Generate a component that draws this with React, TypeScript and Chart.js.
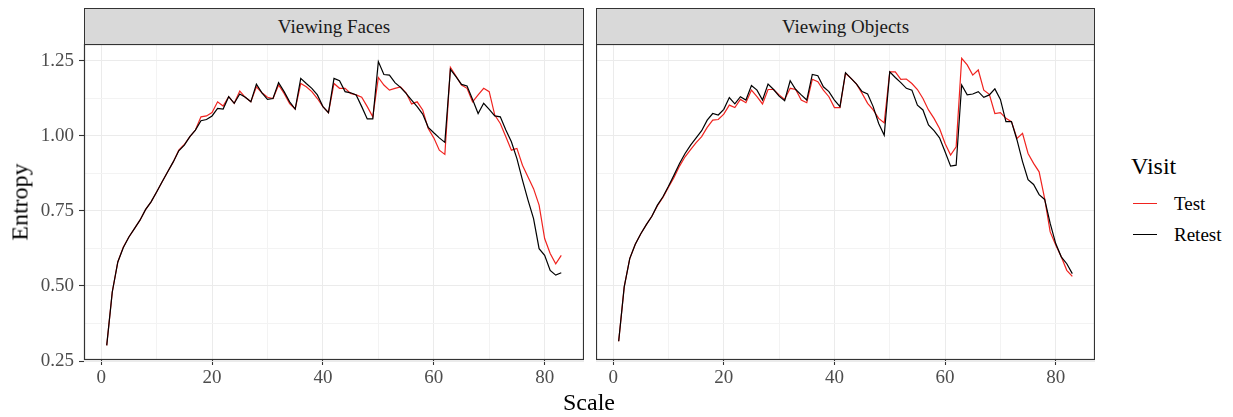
import React, { useEffect, useRef } from "react";
import { Chart, registerables } from "chart.js";
Chart.register(...registerables);

const scaleValues = Array.from({ length: 83 }, (_, i) => i + 1);

const facesTest = [
  0.302, 0.48, 0.58, 0.63, 0.663, 0.691, 0.719, 0.754, 0.78, 0.813,
  0.847, 0.88, 0.913, 0.952, 0.971, 0.997, 1.019, 1.063, 1.066, 1.077,
  1.113, 1.099, 1.13, 1.108, 1.149, 1.128, 1.113, 1.163, 1.143, 1.128,
  1.124, 1.169, 1.141, 1.107, 1.089, 1.174, 1.163, 1.147, 1.124, 1.097,
  1.077, 1.174, 1.158, 1.158, 1.141, 1.136, 1.128, 1.097, 1.063, 1.194,
  1.169, 1.152, 1.158, 1.163, 1.143, 1.106, 1.113, 1.086, 1.024, 0.993,
  0.952, 0.938, 1.228, 1.199, 1.169, 1.158, 1.113, 1.136, 1.158, 1.147,
  1.069, 1.041, 0.997, 0.952, 0.958, 0.902, 0.863, 0.824, 0.769, 0.658,
  0.608, 0.574, 0.602,
];
const facesRetest = [
  0.302, 0.48, 0.58, 0.628, 0.663, 0.691, 0.719, 0.754, 0.78, 0.813,
  0.847, 0.88, 0.913, 0.95, 0.969, 0.997, 1.019, 1.05, 1.054, 1.066,
  1.091, 1.089, 1.13, 1.108, 1.139, 1.128, 1.113, 1.172, 1.143, 1.121,
  1.124, 1.177, 1.147, 1.113, 1.089, 1.191, 1.174, 1.158, 1.136, 1.097,
  1.077, 1.191, 1.183, 1.147, 1.143, 1.136, 1.097, 1.056, 1.056, 1.247,
  1.204, 1.202, 1.177, 1.161, 1.141, 1.119, 1.097, 1.072, 1.028, 1.01,
  0.993, 0.978, 1.221, 1.197, 1.171, 1.166, 1.121, 1.074, 1.108, 1.088,
  1.066, 1.063, 1.019, 0.98, 0.924, 0.852, 0.786, 0.724, 0.624, 0.602,
  0.552, 0.536, 0.544,
];
const objectsTest = [
  0.316, 0.497, 0.591, 0.639, 0.674, 0.704, 0.732, 0.767, 0.795, 0.829,
  0.861, 0.899, 0.93, 0.954, 0.977, 0.997, 1.028, 1.052, 1.054, 1.072,
  1.102, 1.094, 1.121, 1.11, 1.152, 1.13, 1.106, 1.154, 1.154, 1.136,
  1.121, 1.158, 1.154, 1.119, 1.11, 1.188, 1.18, 1.152, 1.13, 1.094,
  1.094, 1.208, 1.191, 1.172, 1.141, 1.108, 1.086, 1.058, 1.043, 1.213,
  1.213, 1.188, 1.189, 1.174, 1.154, 1.124, 1.086, 1.058, 1.024, 0.974,
  0.936, 0.963, 1.258, 1.236, 1.202, 1.219, 1.152, 1.138, 1.074, 1.077,
  1.058, 1.047, 0.991, 1.008, 0.941, 0.908, 0.88, 0.791, 0.68, 0.636,
  0.597, 0.552, 0.532,
];
const objectsRetest = [
  0.316, 0.497, 0.591, 0.639, 0.674, 0.704, 0.732, 0.769, 0.797, 0.832,
  0.869, 0.908, 0.941, 0.969, 0.993, 1.017, 1.052, 1.074, 1.069, 1.088,
  1.127, 1.106, 1.13, 1.119, 1.167, 1.152, 1.119, 1.172, 1.154, 1.132,
  1.117, 1.183, 1.154, 1.136, 1.119, 1.204, 1.2, 1.163, 1.147, 1.119,
  1.097, 1.21, 1.191, 1.172, 1.147, 1.139, 1.097, 1.041, 1.002, 1.213,
  1.194, 1.177, 1.158, 1.152, 1.102, 1.086, 1.036, 1.017, 0.993, 0.947,
  0.899, 0.902, 1.169, 1.136, 1.139, 1.147, 1.128, 1.136, 1.156, 1.121,
  1.047, 1.047, 0.986, 0.914, 0.854, 0.838, 0.804, 0.788, 0.708, 0.641,
  0.597, 0.574, 0.541,
];

const xTickValues = [0, 10, 20, 30, 40, 50, 60, 70, 80];
const xMajorTicks = [0, 20, 40, 60, 80];
const yTickValues = [0.25, 0.375, 0.5, 0.625, 0.75, 0.875, 1.0, 1.125, 1.25];
const yMajorTicks = [0.25, 0.5, 0.75, 1.0, 1.25];
const facetTitles = ["Viewing Faces", "Viewing Objects"];
const seriesNames = ["Test", "Retest"];
const seriesColors = ["#f0231f", "#000000"];

const FONT = "'Liberation Serif', 'DejaVu Serif', serif";
const X_MIN = -3.1;
const X_MAX = 87.1;
const Y_MIN = 0.2535;
const Y_MAX = 1.3055;

const borderPlugin = {
  id: "panelBorder",
  afterDraw(chart: any) {
    const { ctx, chartArea } = chart;
    ctx.save();
    ctx.strokeStyle = "#333333";
    ctx.lineWidth = 1.2;
    ctx.strokeRect(
      chartArea.left + 0.5,
      chartArea.top + 0.5,
      chartArea.right - chartArea.left - 1,
      chartArea.bottom - chartArea.top - 1
    );
    ctx.restore();
  },
};

function Panel(props: {
  test: number[];
  retest: number[];
  showY: boolean;
  left: number;
  width: number;
}) {
  const ref = useRef<HTMLCanvasElement | null>(null);
  useEffect(() => {
    if (!ref.current) return;
    const isMajorX = (v: number) => xMajorTicks.includes(v);
    const isMajorY = (v: number) => yMajorTicks.some((m) => Math.abs(m - v) < 1e-6);
    const chart = new Chart(ref.current, {
      type: "line",
      data: {
        datasets: [
          {
            label: seriesNames[1],
            data: scaleValues.map((x, i) => ({ x, y: props.retest[i] })),
            borderColor: seriesColors[1],
            borderWidth: 1.2,
            pointRadius: 0,
            tension: 0,
            fill: false,
          },
          {
            label: seriesNames[0],
            data: scaleValues.map((x, i) => ({ x, y: props.test[i] })),
            borderColor: seriesColors[0],
            borderWidth: 1.2,
            pointRadius: 0,
            tension: 0,
            fill: false,
          },
        ],
      },
      options: {
        animation: false,
        responsive: false,
        devicePixelRatio: 1,
        layout: { padding: 0 },
        plugins: { legend: { display: false }, tooltip: { enabled: false } },
        scales: {
          x: {
            type: "linear",
            min: X_MIN,
            max: X_MAX,
            afterBuildTicks: (s: any) => {
              s.ticks = xTickValues.map((v) => ({ value: v }));
            },
            afterFit: (s: any) => {
              s.height = 30;
              s.paddingLeft = 0;
              s.paddingRight = 0;
              s.paddingTop = 0;
              s.paddingBottom = 0;
            },
            border: { display: false },
            grid: {
              color: (c: any) => (isMajorX(c.tick?.value) ? "#ebebeb" : "#f3f3f3"),
              lineWidth: 1,
              tickLength: 5,
              tickColor: (c: any) => (isMajorX(c.tick?.value) ? "#333333" : "rgba(0,0,0,0)"),
              tickWidth: 1.1,
            },
            ticks: {
              autoSkip: false,
              maxRotation: 0,
              padding: 2,
              color: "#4d4d4d",
              font: { family: FONT, size: 19 },
              callback: (v: any) => (isMajorX(Number(v)) ? String(v) : ""),
            },
          },
          y: {
            type: "linear",
            min: Y_MIN,
            max: Y_MAX,
            afterBuildTicks: (s: any) => {
              s.ticks = yTickValues.map((v) => ({ value: v }));
            },
            afterFit: (s: any) => {
              s.width = props.showY ? 84 : 0;
              s.paddingLeft = 0;
              s.paddingRight = 0;
              s.paddingTop = 0;
              s.paddingBottom = 0;
            },
            border: { display: false },
            grid: {
              color: (c: any) => (isMajorY(c.tick?.value) ? "#ebebeb" : "#f3f3f3"),
              lineWidth: 1,
              drawTicks: props.showY,
              tickLength: 5,
              tickColor: (c: any) => (isMajorY(c.tick?.value) ? "#333333" : "rgba(0,0,0,0)"),
              tickWidth: 1.1,
            },
            ticks: {
              display: props.showY,
              autoSkip: false,
              padding: 5,
              color: "#4d4d4d",
              font: { family: FONT, size: 19 },
              callback: (v: any) => (isMajorY(Number(v)) ? Number(v).toFixed(2) : ""),
            },
          },
        },
      },
      plugins: [borderPlugin],
    } as any);
    return () => chart.destroy();
  }, []);
  return (
    <canvas
      ref={ref}
      width={props.width}
      height={346}
      style={{ position: "absolute", left: props.left, top: 44, width: props.width, height: 346 }}
    />
  );
}

function Strip(props: { left: number; width: number; title: string }) {
  return (
    <div
      style={{
        position: "absolute",
        left: props.left,
        top: 8,
        width: props.width,
        height: 37,
        boxSizing: "border-box",
        background: "#d9d9d9",
        border: "1.2px solid #333333",
        display: "flex",
        alignItems: "center",
        justifyContent: "center",
        fontFamily: FONT,
        fontSize: 19,
        color: "#1a1a1a",
      }}
    >
      {props.title}
    </div>
  );
}

export default function App() {
  return (
    <div
      style={{
        position: "absolute",
        left: 0,
        top: 0,
        width: 1233,
        height: 417,
        background: "#ffffff",
        overflow: "hidden",
        fontFamily: FONT,
      }}
    >
      <Strip left={84} width={500} title={facetTitles[0]} />
      <Strip left={596} width={499} title={facetTitles[1]} />
      <Panel test={facesTest} retest={facesRetest} showY={true} left={0} width={584} />
      <Panel test={objectsTest} retest={objectsRetest} showY={false} left={596} width={499} />
      <div
        style={{
          position: "absolute",
          left: 20,
          top: 202,
          transform: "translate(-50%, -50%) rotate(-90deg)",
          fontSize: 24,
          color: "#000",
          whiteSpace: "nowrap",
        }}
      >
        Entropy
      </div>
      <div
        style={{
          position: "absolute",
          left: 589,
          top: 402,
          transform: "translate(-50%, -50%)",
          fontSize: 24,
          color: "#000",
          whiteSpace: "nowrap",
        }}
      >
        Scale
      </div>
      <div style={{ position: "absolute", left: 1131, top: 152, fontSize: 24, color: "#000", lineHeight: "28px" }}>
        Visit
      </div>
      {seriesNames.map((name, i) => (
        <div key={name}>
          <div
            style={{
              position: "absolute",
              left: 1133,
              top: 203 + i * 31,
              width: 24,
              height: 0,
              borderTop: `1.2px solid ${seriesColors[i]}`,
            }}
          />
          <div
            style={{
              position: "absolute",
              left: 1174,
              top: 193 + i * 31,
              fontSize: 19,
              lineHeight: "22px",
              color: "#000",
              whiteSpace: "nowrap",
            }}
          >
            {name}
          </div>
        </div>
      ))}
    </div>
  );
}
